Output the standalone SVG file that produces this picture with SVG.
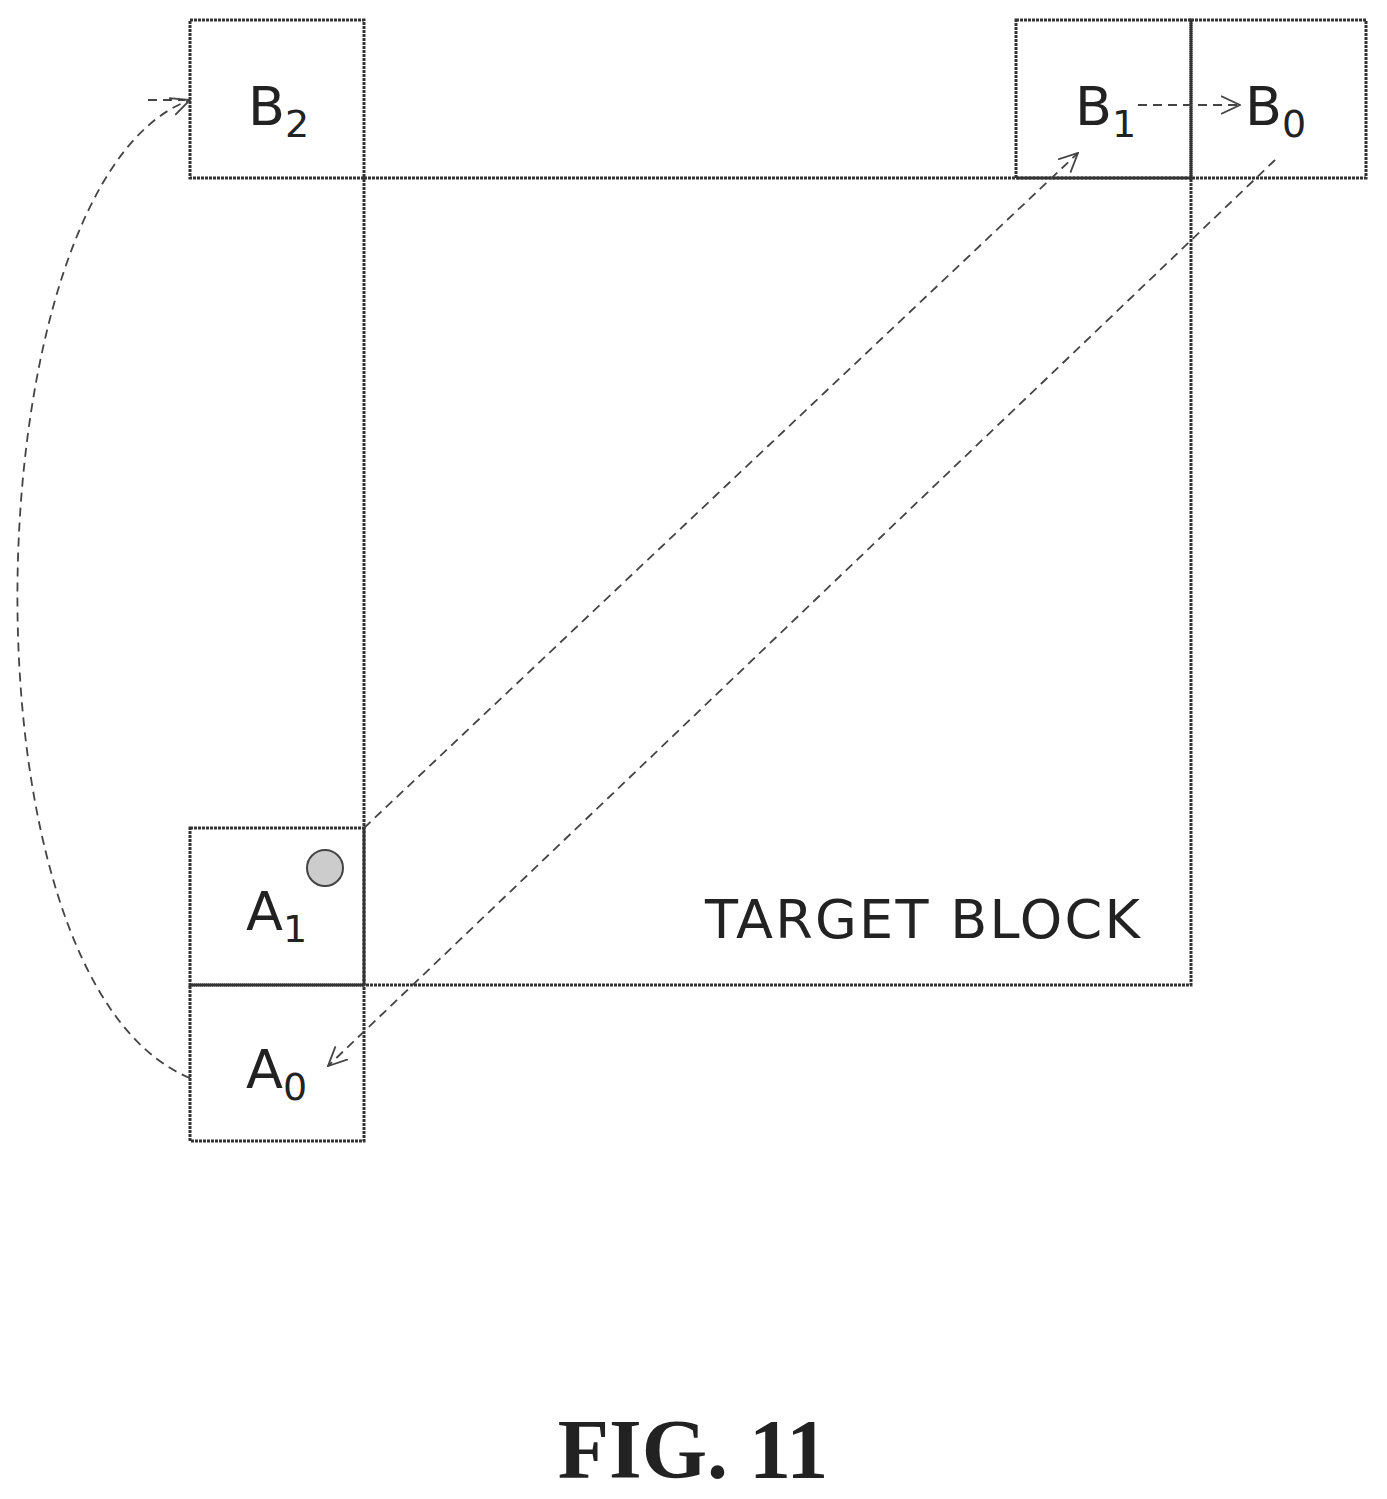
<svg xmlns="http://www.w3.org/2000/svg" width="1387" height="1499" viewBox="0 0 1387 1499">
<style>
.box{fill:none;stroke:#333;stroke-width:3;stroke-dasharray:3 1}
.lbl{font-family:"DejaVu Sans",sans-serif;font-size:54px;fill:#222}
.sub{font-size:38px}
.con{fill:none;stroke:#444;stroke-width:1.8;stroke-dasharray:9 6}
</style>
<defs>
<marker id="arr" viewBox="0 0 20 20" refX="19" refY="10" markerWidth="20" markerHeight="20" markerUnits="userSpaceOnUse" orient="auto">
<path d="M0 1 L19 10 L0 19" fill="none" stroke="#444" stroke-width="1.8"/>
</marker>
</defs>
<rect width="1387" height="1499" fill="#fff"/>
<g id="target"><rect class="box" x="364" y="178" width="827" height="807"/><text class="lbl" x="705" y="938" textLength="435">TARGET BLOCK</text></g>
<g id="B2"><rect class="box" x="190" y="20" width="174" height="158"/><text class="lbl" x="248" y="125">B<tspan class="sub" dy="12">2</tspan></text></g>
<g id="B1"><rect class="box" x="1016" y="20" width="175" height="158"/><text class="lbl" x="1075" y="125">B<tspan class="sub" dy="12">1</tspan></text></g>
<g id="B0"><rect class="box" x="1191" y="20" width="175" height="158"/><text class="lbl" x="1245" y="125">B<tspan class="sub" dy="12">0</tspan></text></g>
<g id="A1"><rect class="box" x="190" y="828" width="174" height="157"/><text class="lbl" x="246" y="930">A<tspan class="sub" dy="12">1</tspan></text><circle cx="325" cy="868" r="18" fill="#ccc" stroke="#444" stroke-width="2"/></g>
<g id="A0"><rect class="box" x="190" y="985" width="174" height="156"/><text class="lbl" x="246" y="1088">A<tspan class="sub" dy="12">0</tspan></text></g>
<g id="connectors">
<path class="con" d="M364 828 L1078 153" marker-end="url(#arr)"/>
<path class="con" d="M1275 160 L328 1066" marker-end="url(#arr)"/>
<path class="con" d="M1138 105 L1240 105" marker-end="url(#arr)"/>
<path class="con" d="M190 1078 C-50 980 -30 180 190 100" marker-end="url(#arr)"/>
<path class="con" d="M148 100 L185 100"/>
</g>
<text x="693" y="1478" text-anchor="middle" font-family="Liberation Serif,serif" font-weight="bold" font-size="84" fill="#222">FIG. 11</text>
</svg>
